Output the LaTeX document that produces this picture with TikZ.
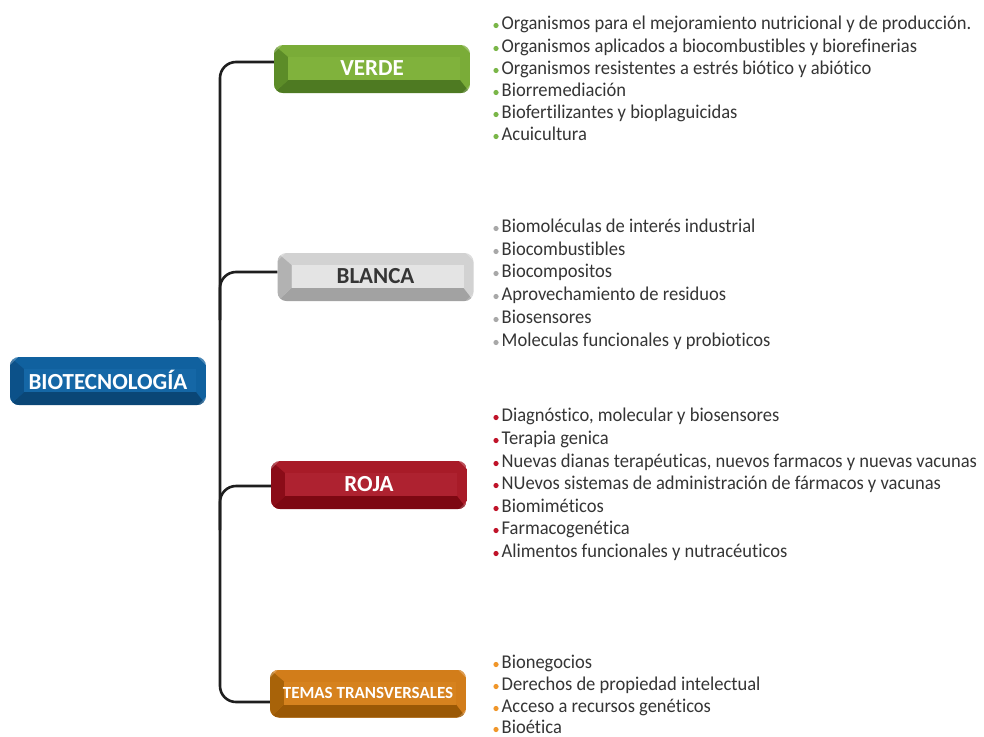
\documentclass[tikz,border=0pt]{standalone}
\usepackage{fontspec}
\setmainfont{Carlito}[FakeStretch=0.95,Ligatures={NoCommon}]
\newfontfamily\boxfont{Carlito}[Ligatures={NoCommon}]
\definecolor{txt}{HTML}{353535}
\definecolor{vmain}{HTML}{7AAC38}\definecolor{vdark}{HTML}{4E7A22}\definecolor{vside}{HTML}{5C8C28}\definecolor{vface}{HTML}{80B23C}
\definecolor{bmain}{HTML}{D2D2D2}\definecolor{bdark}{HTML}{A2A2A2}\definecolor{bside}{HTML}{B2B2B2}\definecolor{bface}{HTML}{E4E4E4}
\definecolor{rmain}{HTML}{A81B28}\definecolor{rdark}{HTML}{7D0812}\definecolor{rside}{HTML}{8A0C18}\definecolor{rface}{HTML}{AE2230}
\definecolor{tmain}{HTML}{D27D1A}\definecolor{tdark}{HTML}{9A5805}\definecolor{tside}{HTML}{A86309}\definecolor{tface}{HTML}{D6821E}
\definecolor{omain}{HTML}{10619F}\definecolor{odark}{HTML}{0A4676}\definecolor{oside}{HTML}{0C5189}\definecolor{oface}{HTML}{1567A6}
\definecolor{gbul}{HTML}{7AB648}\definecolor{wbul}{HTML}{A8A8A8}\definecolor{rbul}{HTML}{C0142A}\definecolor{obul}{HTML}{F0962A}
\definecolor{spinec}{HTML}{1E1E1E}
\tikzset{
  boxlabel/.style={minimum width=196pt,minimum height=48pt,inner sep=0pt,font=\boxfont\fontsize{23}{26}\selectfont\bfseries},
  item/.style={anchor=base west,inner sep=0pt,text=txt,font=\fontsize{19.5}{23}\selectfont},
  spine/.style={line width=2.6pt,spinec,rounded corners=16pt},
}
% #1 name, #2 cx, #3 cy, #4 main, #5 dark, #6 side, #7 face, #8 text colour, #9 text
\newcommand{\bevelbox}[9]{%
  \begin{scope}[shift={(#2,#3)}]
    \begin{scope}
      \clip[rounded corners=9pt] (-98,-24) rectangle (98,24);
      \fill[#4] (-98,-24) rectangle (98,24);
      \fill[#5] (-98,24) -- (98,24) -- (88,11) -- (-84,11) -- cycle;
      \fill[#6] (-98,-24) -- (-84,-12) -- (-84,11) -- (-98,24) -- cycle;
      \fill[#7] (-84,-12) rectangle (88,11);
      \fill[white,opacity=0.25] (-98,-24) -- (-90,-24) -- (-98,-16) -- cycle;
      \fill[white,opacity=0.25] (98,-24) -- (90,-24) -- (98,-16) -- cycle;
      \fill[white,opacity=0.2] (98,24) -- (90,24) -- (98,16) -- cycle;
    \end{scope}
  \end{scope}
  \node[boxlabel,text=#8] (#1) at (#2,#3-1) {#9};
}
\begin{document}
\begin{tikzpicture}[x=1pt,y=-1pt]
\useasboundingbox (0,0) rectangle (984,736);
\fill[white] (0,0) rectangle (984,736);

% spine and branches
\coordinate (s1) at (220,400);
\coordinate (s2) at (220,320);
\coordinate (s3) at (220,530);
\bevelbox{root}{108}{381}{omain}{odark}{oside}{oface}{white}{BIOTECNOLOGÍA}
\bevelbox{verde}{372}{69}{vmain}{vdark}{vside}{vface}{white}{VERDE}
\bevelbox{blanca}{375.5}{277}{bmain}{bdark}{bside}{bface}{txt}{BLANCA}
\bevelbox{roja}{369}{485}{rmain}{rdark}{rside}{rface}{white}{ROJA}
\bevelbox{temas}{368}{693.5}{tmain}{tdark}{tside}{tface}{white}{\fontsize{17}{20}\selectfont TEMAS TRANSVERSALES}

\draw[spine] ([yshift=6pt]verde.west) -| (s1) |- ([yshift=-9.5pt]temas.west);
\draw[spine] (s2) |- ([yshift=4pt]blanca.west);
\draw[spine] (s3) |- ([yshift=-2pt]roja.west);

% lists
\newcommand{\itemlist}[4]{% #1 prefix, #2 colour, #3 list of baseline/text
  \foreach \yy/\tt [count=\i] in {#3} {
    \fill[#2] (496,\yy-3.5) circle (2.6pt);
    \node[item] (#1\i) at (501.5,\yy) {\tt};
  }
}
\itemlist{v}{gbul}{29/Organismos para el mejoramiento nutricional y de producción.,
  52/Organismos aplicados a biocombustibles y biorefinerias,
  74/Organismos resistentes a estrés biótico y abiótico,
  96/Biorremediación,
  118/Biofertilizantes y bioplaguicidas,
  140/Acuicultura}{}
\itemlist{b}{wbul}{232/Biomoléculas de interés industrial,
  255/Biocombustibles,
  277/Biocompositos,
  300/Aprovechamiento de residuos,
  323/Biosensores,
  346/Moleculas funcionales y probioticos}{}
\itemlist{r}{rbul}{421/{Diagnóstico, molecular y biosensores},
  444/Terapia genica,
  467/{Nuevas dianas terapéuticas, nuevos farmacos y nuevas vacunas},
  489/NUevos sistemas de administración de fármacos y vacunas,
  512/Biomiméticos,
  534/Farmacogenética,
  557/Alimentos funcionales y nutracéuticos}{}
\itemlist{t}{obul}{668/Bionegocios,
  690/Derechos de propiedad intelectual,
  712/Acceso a recursos genéticos,
  733/Bioética}{}
\end{tikzpicture}
\end{document}
